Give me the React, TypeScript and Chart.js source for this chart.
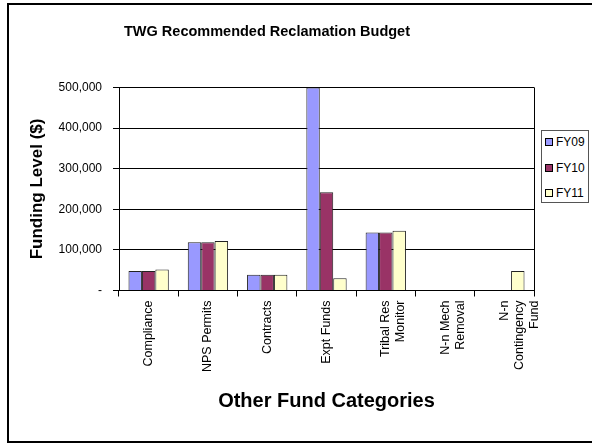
import React, { useEffect, useRef } from "react";
import { Chart, registerables } from "chart.js";

Chart.register(...registerables);

const categories: (string | string[])[] = [
  "Compliance",
  "NPS Permits",
  "Contracts",
  "Expt Funds",
  ["Tribal Res", "Monitor"],
  ["N-n Mech", "Removal"],
  ["N-n", "Contingency", "Fund"],
];
const seriesNames = ["FY09", "FY10", "FY11"];
const fy09 = [48000, 119000, 39000, 500000, 143000, 0, 0];
const fy10 = [48000, 119000, 39000, 242000, 143000, 0, 0];
const fy11 = [52000, 122000, 39000, 30000, 147000, 0, 48000];
const colors = ["#9999FF", "#993366", "#FFFFCC"];
const yMax = 500000;
const yStep = 100000;

const FONT = "'Liberation Sans', Arial, sans-serif";

const plotBorder = {
  id: "plotBorder",
  afterDatasetsDraw(chart: any) {
    const { ctx, chartArea } = chart;
    ctx.save();
    ctx.strokeStyle = "#000";
    ctx.lineWidth = 1;
    ctx.beginPath();
    ctx.moveTo(Math.round(chartArea.right) + 0.5, chartArea.top);
    ctx.lineTo(Math.round(chartArea.right) + 0.5, chartArea.bottom);
    ctx.stroke();
    ctx.restore();
  },
};

export default function App() {
  const ref = useRef<HTMLCanvasElement | null>(null);
  useEffect(() => {
    if (!ref.current) return;
    const data = [fy09, fy10, fy11];
    const chart = new Chart(ref.current, {
      type: "bar",
      data: {
        labels: categories,
        datasets: seriesNames.map((name, i) => ({
          label: name,
          data: data[i],
          backgroundColor: colors[i],
          borderColor: "#222",
          borderWidth: 1,
          categoryPercentage: 0.68,
          barPercentage: 1.0,
        })),
      },
      options: {
        animation: false,
        responsive: false,
        devicePixelRatio: 1,
        layout: { padding: { left: 0, right: 4, top: 0, bottom: 0 } },
        plugins: {
          legend: { display: false },
          tooltip: { enabled: false },
          title: {
            display: true,
            text: "TWG Recommended Reclamation Budget",
            color: "#000",
            font: { family: FONT, size: 14.5, weight: "bold" },
            padding: { top: 23, bottom: 47 },
          },
        },
        scales: {
          x: {
            type: "category",
            offset: true,
            afterFit: (s: any) => {
              s.height = 154.5;
              s.paddingLeft = 0;
              s.paddingRight = 0;
            },
            grid: {
              offset: true,
              drawOnChartArea: false,
              drawTicks: true,
              tickLength: 6,
              color: "#000",
            },
            border: { display: true, color: "#000" },
            ticks: {
              autoSkip: false,
              minRotation: 90,
              maxRotation: 90,
              padding: 4,
              color: "#000",
              font: { family: FONT, size: 12.5 },
            },
            title: {
              display: true,
              text: "Other Fund Categories",
              color: "#000",
              font: { family: FONT, size: 20, weight: "bold" },
              padding: { top: 0, bottom: 32 },
            },
          },
          y: {
            min: 0,
            max: yMax,
            afterFit: (s: any) => {
              s.width = 119;
            },
            grid: {
              color: "#000",
              lineWidth: 1,
              drawTicks: true,
              tickLength: 6,
              tickColor: "#000",
            },
            border: { display: true, color: "#000" },
            ticks: {
              stepSize: yStep,
              padding: 11,
              color: "#000",
              font: { family: FONT, size: 12 },
              callback: (v: any) =>
                Number(v) === 0 ? "-" : Number(v).toLocaleString("en-US"),
            },
            title: {
              display: true,
              text: "Funding Level ($)",
              color: "#000",
              font: { family: FONT, size: 17, weight: "bold" },
              padding: { top: 27, bottom: 0 },
            },
          },
        },
      },
      plugins: [plotBorder],
    });
    return () => chart.destroy();
  }, []);

  return (
    <div
      style={{
        position: "fixed",
        left: 0,
        top: 0,
        width: 592,
        height: 445,
        overflow: "hidden",
        background: "#fff",
        fontFamily: FONT,
      }}
    >
      <div
        style={{
          position: "absolute",
          left: 7,
          top: 3,
          width: 600,
          height: 440,
          boxSizing: "border-box",
          border: "2px solid #000",
        }}
      />
      <canvas
        ref={ref}
        width={538}
        height={445}
        style={{ position: "absolute", left: 0, top: 0, width: 538, height: 445 }}
      />
      <div
        style={{
          position: "absolute",
          left: 541,
          top: 130,
          width: 48,
          height: 73,
          boxSizing: "border-box",
          border: "1px solid #555",
          background: "#fff",
        }}
      >
        {seriesNames.map((name, i) => (
          <div
            key={name}
            style={{
              position: "absolute",
              left: 3,
              top: 4 + i * 25.5,
              height: 14,
              display: "flex",
              alignItems: "center",
              fontSize: 12,
              color: "#000",
              whiteSpace: "nowrap",
            }}
          >
            <span
              style={{
                display: "inline-block",
                width: 6,
                height: 6,
                border: "1px solid #000",
                background: colors[i],
                marginRight: 3,
              }}
            />
            {name}
          </div>
        ))}
      </div>
    </div>
  );
}
